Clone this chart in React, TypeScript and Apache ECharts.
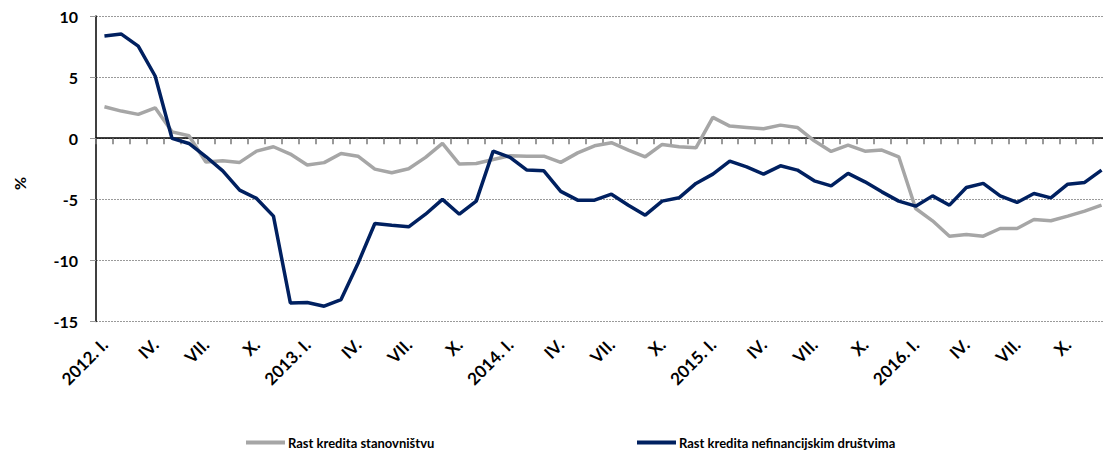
import React, { useEffect, useRef } from "react";
import * as echarts from "echarts";

const years = [2012, 2013, 2014, 2015, 2016];
const romans = ["I.", "II.", "III.", "IV.", "V.", "VI.", "VII.", "VIII.", "IX.", "X.", "XI.", "XII."];
const categories: string[] = [];
years.forEach((y) => romans.forEach((r, i) => categories.push(i === 0 ? `${y}. ${r}` : r)));

const householdName = "Rast kredita stanovništvu";
const corporateName = "Rast kredita nefinancijskim društvima";

const household = [
  2.57, 2.22, 1.95, 2.49, 0.52, 0.2, -1.95, -1.85, -1.98, -1.06, -0.7,
  -1.3, -2.2, -2.0, -1.25, -1.47, -2.53, -2.83, -2.5, -1.57, -0.43, -2.12, -2.07,
  -1.74, -1.44, -1.47, -1.47, -1.98, -1.2, -0.62, -0.37, -0.97, -1.52, -0.51, -0.7,
  -0.79, 1.7, 0.99, 0.88, 0.77, 1.07, 0.88, -0.21, -1.08, -0.57, -1.06, -0.97,
  -1.52, -5.75, -6.76, -8.02, -7.88, -8.02, -7.39, -7.39, -6.65, -6.76, -6.38, -5.97, -5.48,
];

const corporate = [
  8.36, 8.52, 7.54, 5.09, -0.02, -0.43, -1.5, -2.67, -4.25, -4.93, -6.38,
  -13.48, -13.45, -13.75, -13.2, -10.25, -6.98, -7.12, -7.25, -6.22, -5.01, -6.22, -5.15,
  -1.06, -1.57, -2.61, -2.67, -4.35, -5.07, -5.07, -4.58, -5.48, -6.3, -5.15, -4.88,
  -3.7, -2.94, -1.88, -2.34, -2.94, -2.26, -2.61, -3.49, -3.9, -2.88, -3.57, -4.39,
  -5.15, -5.56, -4.72, -5.48, -4.03, -3.7, -4.72, -5.26, -4.52, -4.88, -3.76, -3.62, -2.61,
];

const yMin = -15;
const yMax = 10;
const yStep = 5;

const FONT = "Lato";

export default function App() {
  const ref = useRef<HTMLDivElement>(null);
  useEffect(() => {
    if (!ref.current) return;
    const chart = echarts.init(ref.current, null, { renderer: "svg" });
    const legendText = {
      fontFamily: FONT,
      fontWeight: "bold",
      fontSize: 13,
      color: "#000000",
      padding: [0, 0, 0, -2],
    };
    chart.setOption({
      animation: false,
      backgroundColor: "#ffffff",
      textStyle: { fontFamily: FONT },
      grid: { left: 96, top: 16, width: 1014, height: 305.5, containLabel: false },
      xAxis: [
        {
          type: "category",
          data: categories,
          boundaryGap: true,
          axisLine: { onZero: true, lineStyle: { color: "#000000", width: 1.5 } },
          axisTick: { show: true, interval: 0, length: 6, lineStyle: { color: "#777777", width: 1.5 } },
          axisLabel: { show: false },
          splitLine: { show: false },
        },
        {
          type: "category",
          data: categories,
          position: "bottom",
          boundaryGap: true,
          axisLine: { show: false, onZero: false },
          axisTick: { show: false },
          axisLabel: {
            interval: 2,
            rotate: 45,
            margin: 20,
            fontFamily: FONT,
            fontWeight: "bold",
            fontSize: 17,
            color: "#000000",
          },
          splitLine: { show: false },
        },
      ],
      yAxis: {
        type: "value",
        min: yMin,
        max: yMax,
        interval: yStep,
        axisLine: { show: true, lineStyle: { color: "#000000", width: 1.5 } },
        axisTick: { show: true, length: 6, lineStyle: { color: "#999999" } },
        axisLabel: {
          margin: 18,
          fontFamily: FONT,
          fontWeight: "bold",
          fontSize: 16,
          color: "#000000",
        },
        splitLine: { show: true, lineStyle: { color: "#9a9a9a", type: [2, 1], width: 1 } },
      },
      legend: [
        {
          data: [{ name: householdName, icon: "rect" }],
          left: 246,
          top: 436,
          padding: 0,
          itemWidth: 39,
          itemHeight: 4,
          textStyle: legendText,
        },
        {
          data: [{ name: corporateName, icon: "rect" }],
          left: 637,
          top: 436,
          padding: 0,
          itemWidth: 39,
          itemHeight: 4,
          textStyle: legendText,
        },
      ],
      graphic: [
        {
          type: "text",
          x: 11,
          y: 190,
          rotation: Math.PI / 2,
          style: { text: "%", fontFamily: FONT, fontWeight: "bold", fontSize: 16, fill: "#000000" },
        },
      ],
      series: [
        {
          name: householdName,
          type: "line",
          xAxisIndex: 0,
          data: household,
          showSymbol: false,
          symbol: "none",
          lineStyle: { color: "#a6a6a6", width: 3.5 },
          itemStyle: { color: "#a6a6a6" },
          z: 2,
        },
        {
          name: corporateName,
          type: "line",
          xAxisIndex: 0,
          data: corporate,
          showSymbol: false,
          symbol: "none",
          lineStyle: { color: "#002060", width: 3.5 },
          itemStyle: { color: "#002060" },
          z: 3,
        },
      ],
    });
    return () => chart.dispose();
  }, []);
  return (
    <div style={{ position: "fixed", left: 0, top: 0, width: 1103, height: 451, overflow: "hidden", background: "#fff" }}>
      <div ref={ref} style={{ width: 1120, height: 451 }} />
    </div>
  );
}
